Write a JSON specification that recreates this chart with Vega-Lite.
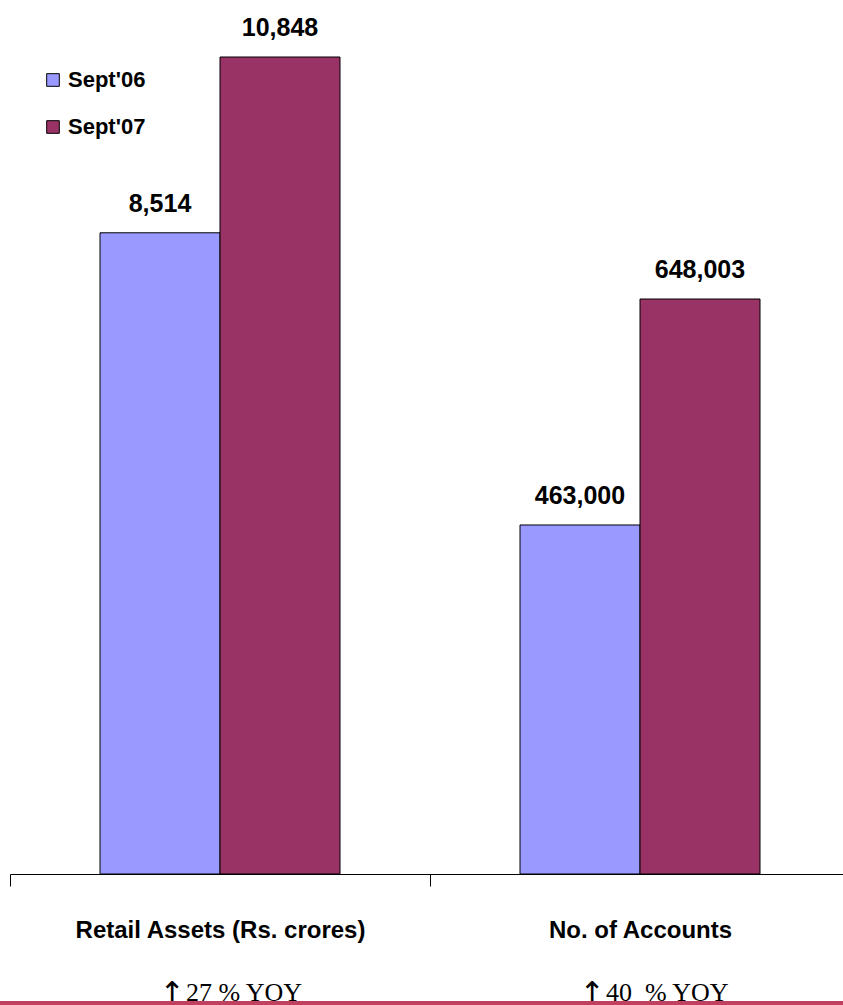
{
  "$schema": "https://vega.github.io/schema/vega-lite/v6.json",
  "width": 840,
  "height": 874,
  "autosize": {"type": "none"},
  "padding": {"left": 10, "top": 0, "right": 0, "bottom": 131},
  "background": "white",
  "config": {"view": {"stroke": null}},
  "datasets": {
    "bars": [
      {"category": "Retail Assets (Rs. crores)", "series": "Sept'06", "value": 8514},
      {"category": "Retail Assets (Rs. crores)", "series": "Sept'07", "value": 10848},
      {"category": "No. of Accounts", "series": "Sept'06", "value": 463000},
      {"category": "No. of Accounts", "series": "Sept'07", "value": 648003}
    ],
    "yoy": [
      {"category": "Retail Assets (Rs. crores)", "arrow": "↑", "yoy": "27 % YOY"},
      {"category": "No. of Accounts", "arrow": "↑", "yoy": "40\u00a0 % YOY"}
    ]
  },
  "encoding": {
    "x": {
      "field": "category",
      "type": "nominal",
      "scale": {"domain": ["Retail Assets (Rs. crores)", "No. of Accounts"], "paddingInner": 0, "paddingOuter": 0},
      "axis": {
        "title": null,
        "domainColor": "black",
        "domainWidth": 1,
        "tickColor": "black",
        "tickWidth": 1,
        "tickSize": 12,
        "tickBand": "extent",
        "labelFont": "Liberation Sans",
        "labelFontWeight": "bold",
        "labelFontSize": 24,
        "labelColor": "black",
        "labelPadding": 32,
        "labelAngle": 0,
        "labelLimit": 0
      }
    }
  },
  "layer": [
    {
      "data": {"name": "bars"},
      "transform": [{"filter": "datum.category === 'Retail Assets (Rs. crores)'"}],
      "encoding": {
        "y": {"field": "value", "type": "quantitative", "scale": {"domain": [0, 11605], "nice": false}, "axis": null},
        "xOffset": {"field": "series", "type": "nominal", "scale": {"domain": ["Sept'06", "Sept'07"], "paddingInner": 0, "paddingOuter": 0.75}}
      },
      "layer": [
        {
          "mark": {"type": "bar", "stroke": "black", "strokeWidth": 1},
          "encoding": {
            "color": {
              "field": "series",
              "type": "nominal",
              "scale": {"domain": ["Sept'06", "Sept'07"], "range": ["#9999FF", "#993366"]},
              "legend": {
                "title": null,
                "orient": "none",
                "legendX": 32,
                "legendY": 69,
                "padding": 0,
                "symbolType": "square",
                "symbolSize": 160,
                "symbolStrokeColor": "black",
                "symbolStrokeWidth": 1,
                "symbolOpacity": 1,
                "labelFont": "Liberation Sans",
                "labelFontWeight": "bold",
                "labelFontSize": 22,
                "labelColor": "black",
                "labelOffset": 4,
                "rowPadding": 25
              }
            }
          }
        },
        {
          "mark": {"type": "text", "font": "Liberation Sans", "fontWeight": "bold", "fontSize": 25, "color": "black", "baseline": "alphabetic", "dy": -21},
          "encoding": {"text": {"field": "value", "type": "quantitative", "format": ",d"}}
        }
      ]
    },
    {
      "data": {"name": "bars"},
      "transform": [{"filter": "datum.category === 'No. of Accounts'"}],
      "encoding": {
        "y": {"field": "value", "type": "quantitative", "scale": {"domain": [177309, 892764], "nice": false, "zero": false, "clamp": true}, "axis": null},
        "xOffset": {"field": "series", "type": "nominal", "scale": {"domain": ["Sept'06", "Sept'07"], "paddingInner": 0, "paddingOuter": 0.75}}
      },
      "layer": [
        {
          "mark": {"type": "bar", "stroke": "black", "strokeWidth": 1},
          "encoding": {
            "color": {"field": "series", "type": "nominal", "scale": {"domain": ["Sept'06", "Sept'07"], "range": ["#9999FF", "#993366"]}}
          }
        },
        {
          "mark": {"type": "text", "font": "Liberation Sans", "fontWeight": "bold", "fontSize": 25, "color": "black", "baseline": "alphabetic", "dy": -21},
          "encoding": {"text": {"field": "value", "type": "quantitative", "format": ",d"}}
        }
      ]
    },
    {
      "data": {"name": "yoy"},
      "mark": {"type": "text", "font": "DejaVu Sans", "fontSize": 30, "color": "black", "baseline": "alphabetic", "align": "center", "dx": -48},
      "encoding": {
        "y": {"value": 1003},
        "text": {"field": "arrow", "type": "nominal"}
      }
    },
    {
      "data": {"name": "yoy"},
      "mark": {"type": "text", "font": "Liberation Serif", "fontSize": 26, "color": "black", "baseline": "alphabetic", "align": "left", "dx": -34},
      "encoding": {
        "y": {"value": 1001},
        "text": {"field": "yoy", "type": "nominal"}
      }
    },
    {
      "data": {"values": [{}]},
      "mark": {"type": "rule", "color": "#C0405F", "strokeWidth": 4},
      "encoding": {
        "x": {"value": -10},
        "x2": {"value": 840},
        "y": {"value": 1003},
        "y2": {"value": 1003}
      }
    }
  ],
  "resolve": {"scale": {"y": "independent"}}
}
